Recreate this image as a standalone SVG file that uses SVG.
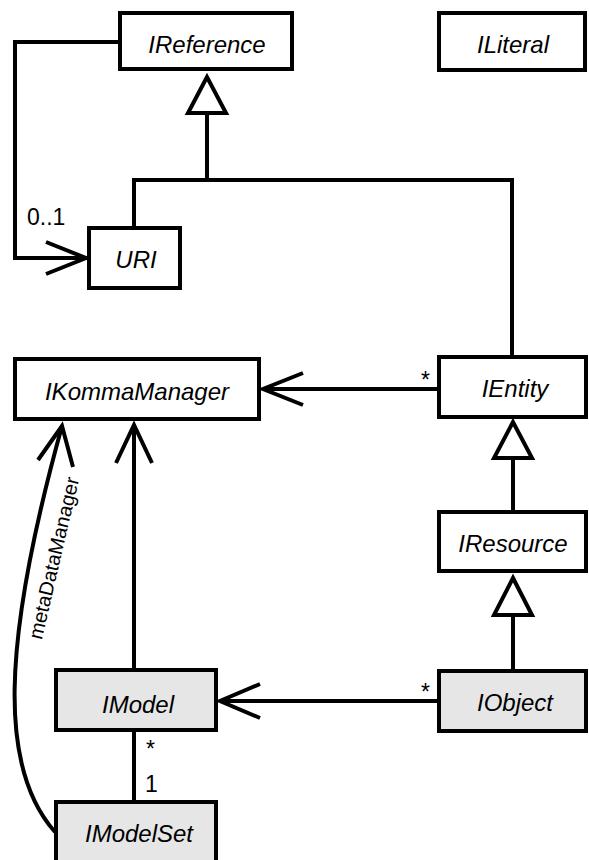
<svg xmlns="http://www.w3.org/2000/svg" width="589" height="860" viewBox="0 0 589 860">
<style>
.box{fill:#ffffff;stroke:#000000;stroke-width:4}
.gray{fill:#e6e6e6}
.lbl{font-family:"Liberation Sans",Arial,sans-serif;font-size:24px;font-style:italic;text-anchor:middle;fill:#000}
.mult{font-family:"Liberation Sans",Arial,sans-serif;font-size:23px;fill:#000}
.line{fill:none;stroke:#000;stroke-width:4;stroke-linejoin:miter}
.tri{fill:#fff;stroke:#000;stroke-width:4;stroke-linejoin:miter}
.role{font-family:"Liberation Sans",Arial,sans-serif;font-size:20px;fill:#000;text-anchor:middle}
</style>
<rect width="589" height="860" fill="#ffffff"/>
<g id="connectors">
  <polyline class="line" points="120,42 15,42 15,258 88,258"/>
  <polyline class="line" points="46,242 86,258 46,274"/>
  <text class="mult" x="27" y="225">0..1</text>
  <polyline class="line" points="134,228 134,180 512,180 512,357"/>
  <line class="line" x1="207" y1="113" x2="207" y2="180"/>
  <polygon class="tri" points="207,77 188,113 226,113"/>
  <line class="line" x1="437" y1="389" x2="263" y2="389"/>
  <polyline class="line" points="303,373 263,389 303,405"/>
  <text class="mult" x="421" y="388">*</text>
  <line class="line" x1="513" y1="458" x2="513" y2="512"/>
  <polygon class="tri" points="513,422 494,458 532,458"/>
  <line class="line" x1="513" y1="615" x2="513" y2="671"/>
  <polygon class="tri" points="513,578 494,615 532,615"/>
  <line class="line" x1="437" y1="701" x2="220" y2="701"/>
  <polyline class="line" points="260,684 220,701 260,718"/>
  <text class="mult" x="421" y="700">*</text>
  <line class="line" x1="134" y1="670" x2="134" y2="425"/>
  <polyline class="line" points="116,463 134,425 152,463"/>
  <line class="line" x1="134" y1="730" x2="134" y2="802"/>
  <text class="mult" x="146" y="757">*</text>
  <text class="mult" x="145" y="792">1</text>
  <path class="line" d="M55,832 C0,770 0,650 62,426"/>
  <polyline class="line" points="38,460 62,426 73,467"/>
  <text class="role" transform="translate(60.5,559.5) rotate(-77)">metaDataManager</text>
</g>
<g id="IReference">
  <rect class="box" x="120" y="13" width="172" height="56"/>
  <text class="lbl" x="207" y="53">IReference</text>
</g>
<g id="ILiteral">
  <rect class="box" x="439" y="13" width="146" height="57"/>
  <text class="lbl" x="513" y="53">ILiteral</text>
</g>
<g id="URI">
  <rect class="box" x="89" y="228" width="91" height="60"/>
  <text class="lbl" x="136" y="268">URI</text>
</g>
<g id="IKommaManager">
  <rect class="box" x="15" y="359" width="244" height="60"/>
  <text class="lbl" x="137" y="400">IKommaManager</text>
</g>
<g id="IEntity">
  <rect class="box" x="439" y="357" width="147" height="60"/>
  <text class="lbl" x="515" y="397">IEntity</text>
</g>
<g id="IResource">
  <rect class="box" x="439" y="512" width="147" height="59"/>
  <text class="lbl" x="513" y="552">IResource</text>
</g>
<g id="IObject">
  <rect class="box gray" x="439" y="671" width="147" height="60"/>
  <text class="lbl" x="515" y="711">IObject</text>
</g>
<g id="IModel">
  <rect class="box gray" x="56" y="670" width="160" height="60"/>
  <text class="lbl" x="138" y="713">IModel</text>
</g>
<g id="IModelSet">
  <rect class="box gray" x="56" y="802" width="160" height="60"/>
  <text class="lbl" x="139" y="842">IModelSet</text>
</g>
</svg>
